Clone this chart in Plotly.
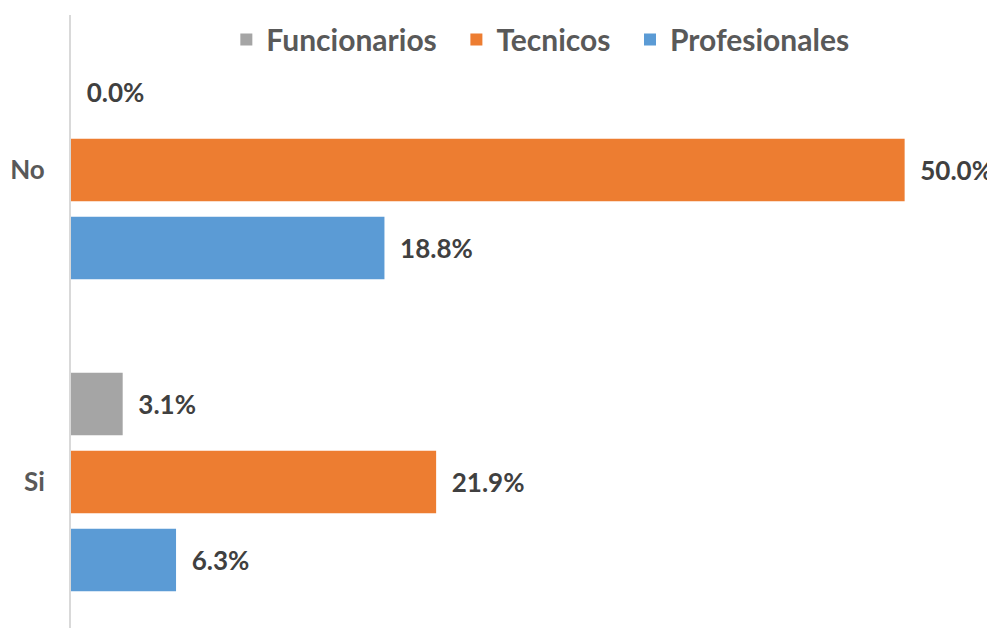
import plotly.graph_objects as go

categories = ["Si", "No"]
funcionarios = [3.1, 0.0]
tecnicos = [21.9, 50.0]
profesionales = [6.3, 18.8]

series = [
    ("Profesionales", profesionales, "#5B9BD5"),
    ("Tecnicos", tecnicos, "#ED7D31"),
    ("Funcionarios", funcionarios, "#A5A5A5"),
]

FONT = "Lato"
NB = "\u00a0"
fig = go.Figure()
for name, vals, color in series:
    fig.add_trace(go.Bar(
        name=name + NB * 2, y=categories, x=vals, orientation="h",
        marker=dict(color=color, line=dict(width=0)),
        texttemplate=NB * 2 + "%{x:.1f}%", textposition="outside",
        textfont=dict(family=FONT, size=26, color="#404040", weight="bold"),
        cliponaxis=False,
    ))

fig.update_layout(
    width=987, height=622,
    margin=dict(l=63, r=7, t=7, b=2, autoexpand=False),
    plot_bgcolor="white", paper_bgcolor="white",
    barmode="group", bargap=0.25, bargroupgap=0.2,
    font=dict(family=FONT, color="#595959"),
    showlegend=True,
    legend=dict(
        orientation="h", traceorder="reversed",
        x=0.52, xanchor="center", y=0.96, yanchor="middle",
        font=dict(family=FONT, size=30, color="#595959", weight="bold"),
        bgcolor="rgba(0,0,0,0)",
    ),
    xaxis=dict(range=[0, 55], showgrid=False, showticklabels=False, zeroline=False,
               showline=False, automargin=False),
    yaxis=dict(
        range=[-0.468, 1.497], showgrid=False, zeroline=False,
        showline=True, linecolor="#D9D9D9", linewidth=2,
        ticklabelstandoff=19, automargin=False,
        tickfont=dict(family=FONT, size=26, color="#595959", weight="bold"),
    ),
)

fig.write_html("out.html")
